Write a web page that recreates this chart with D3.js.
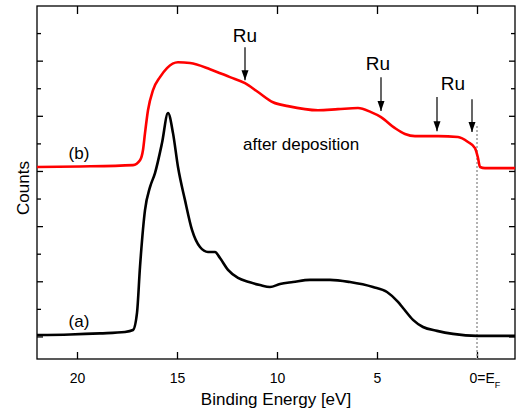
<!DOCTYPE html>
<html>
<head>
<meta charset="utf-8">
<script src="https://cdn.jsdelivr.net/npm/d3@7"></script>
<style>
  body { margin: 0; background: #fff; }
  svg { font-family: "Liberation Sans", Arial, sans-serif; }
</style>
</head>
<body>
<svg id="chart" width="517" height="417"></svg>
<script>
// spectrum (a): clean substrate, binding energy [eV] vs counts (arb.)
const energyA = [22.0, 20.35, 18.85, 17.6, 17.2, 17.0, 16.85, 16.6, 16.35, 16.1, 15.75, 15.45, 15.2, 14.95, 14.6, 14.25, 13.85, 13.45, 13.1, 12.85, 12.45, 11.95, 11.4, 10.85, 10.35, 9.85, 9.2, 8.35, 7.35, 6.35, 5.2, 4.5, 3.95, 3.7, 3.2, 2.7, 2.0, 1.2, 0, -1.9];
const countsA = [0.07, 0.09, 0.13, 0.18, 0.25, 0.87, 2.54, 4.6, 5.43, 5.94, 7.03, 8.12, 7.39, 6.16, 4.96, 3.88, 3.26, 3.08, 3.08, 2.86, 2.43, 2.14, 1.99, 1.88, 1.81, 1.92, 1.99, 2.07, 2.07, 1.99, 1.81, 1.63, 1.27, 1.05, 0.62, 0.36, 0.22, 0.11, 0.04, 0.04];

// spectrum (b): after Ru deposition
const energyB = [22.0, 19.85, 17.2, 16.85, 16.7, 16.6, 16.45, 16.2, 15.85, 15.5, 14.95, 14.35, 13.35, 12.35, 11.6, 10.95, 10.2, 9.45, 7.95, 6.95, 5.95, 5.3, 4.8, 4.1, 3.6, 3.1, 1.95, 0.95, 0.45, 0.1, -0.05, -0.15, -0.4, -1.9];
const countsB = [6.16, 6.18, 6.23, 6.41, 6.78, 7.39, 8.22, 8.95, 9.42, 9.75, 9.96, 9.93, 9.71, 9.42, 9.2, 8.88, 8.51, 8.37, 8.22, 8.26, 8.3, 8.15, 7.97, 7.57, 7.36, 7.28, 7.28, 7.25, 7.07, 6.85, 6.49, 6.16, 6.12, 6.12];

const xTicks = [20, 15, 10, 5, 0];
const yTicks = [0, 1, 2, 3, 4, 5, 6, 7, 8, 9, 10, 11];

// Ru arrows: energy, tail value, tip value
const arrows = [
  { e: 11.6, from: 10.5, to: 9.31 },
  { e: 4.8, from: 9.42, to: 8.19 },
  { e: 2.0, from: 8.7, to: 7.46 },
  { e: 0.25, from: 8.62, to: 7.43 }
];
const ruLabels = [
  { e: 11.6, v: 10.69 },
  { e: 4.95, v: 9.67 },
  { e: 1.2, v: 8.95 }
];

const svg = d3.select("#chart");
const m = { left: 37, right: 515, top: 6, bottom: 359 };

const x = d3.scaleLinear().domain([22, -1.9]).range([m.left, m.right]);
const y = d3.scaleLinear().domain([-0.8, 12]).range([m.bottom, m.top]);

// arrow head
svg.append("defs").append("marker")
  .attr("id", "head")
  .attr("viewBox", "0 0 10 10")
  .attr("refX", 10).attr("refY", 5)
  .attr("markerWidth", 10).attr("markerHeight", 10)
  .attr("markerUnits", "userSpaceOnUse")
  .attr("orient", "auto")
  .append("path")
  .attr("d", "M0,1.5 L10,5 L0,8.5 Z")
  .attr("fill", "#000");

// bottom / top axes, ticks inward
const gx = svg.append("g")
  .attr("transform", `translate(0,${m.bottom})`)
  .call(d3.axisBottom(x).tickValues(xTicks).tickSizeInner(-7).tickSizeOuter(0).tickPadding(14));
gx.select(".domain").remove();
gx.selectAll("line").attr("stroke-width", 1.3);
gx.selectAll("text").attr("font-size", 14).attr("fill", "#000");
gx.attr("font-family", null);
gx.selectAll(".tick").filter(d => d === 0).select("text")
  .attr("text-anchor", "start").attr("x", -8)
  .text("0=E")
  .append("tspan").attr("font-size", 9).attr("dy", 5).text("F");

const gxt = svg.append("g")
  .attr("transform", `translate(0,${m.top})`)
  .call(d3.axisTop(x).tickValues(xTicks).tickSizeInner(-8).tickSizeOuter(0).tickFormat(""));
gxt.select(".domain").remove();
gxt.selectAll("line").attr("stroke-width", 1.3);

// left / right axes, alternating tick length
function yAxis(g, side) {
  g.selectAll("line.yt")
    .data(yTicks)
    .join("line")
    .attr("class", "yt")
    .attr("x1", side)
    .attr("x2", d => side + (side === m.left ? 1 : -1) * (d % 2 === 0 ? 6 : 4))
    .attr("y1", d => y(d)).attr("y2", d => y(d))
    .attr("stroke", "#000").attr("stroke-width", 1.3);
}
svg.append("g").call(yAxis, m.left);
svg.append("g").call(yAxis, m.right);

// frame
svg.append("rect")
  .attr("x", m.left).attr("y", m.top)
  .attr("width", m.right - m.left).attr("height", m.bottom - m.top)
  .attr("fill", "none").attr("stroke", "#000").attr("stroke-width", 1.3);

// Fermi level marker
svg.append("line")
  .attr("x1", x(0)).attr("x2", x(0))
  .attr("y1", y(7.65)).attr("y2", m.bottom)
  .attr("stroke", "#999").attr("stroke-width", 1.5)
  .attr("stroke-dasharray", "2,2");

const line = d3.line()
  .x(d => x(d[0]))
  .y(d => y(d[1]))
  .curve(d3.curveMonotoneX);

svg.append("path")
  .datum(d3.zip(energyA, countsA))
  .attr("d", line)
  .attr("fill", "none").attr("stroke", "#000").attr("stroke-width", 2.6)
  .attr("stroke-linejoin", "round");

svg.append("path")
  .datum(d3.zip(energyB, countsB))
  .attr("d", line)
  .attr("fill", "none").attr("stroke", "#ff0000").attr("stroke-width", 2.6)
  .attr("stroke-linejoin", "round");

// arrows + labels
svg.selectAll("line.arrow")
  .data(arrows)
  .join("line")
  .attr("class", "arrow")
  .attr("x1", d => x(d.e)).attr("x2", d => x(d.e))
  .attr("y1", d => y(d.from)).attr("y2", d => y(d.to))
  .attr("stroke", "#000").attr("stroke-width", 1.2)
  .attr("marker-end", "url(#head)");

svg.selectAll("text.ru")
  .data(ruLabels)
  .join("text")
  .attr("class", "ru")
  .attr("x", d => x(d.e)).attr("y", d => y(d.v))
  .attr("text-anchor", "middle")
  .attr("font-size", 19)
  .text("Ru");

svg.append("text")
  .attr("x", x(19.9)).attr("y", y(6.45))
  .attr("text-anchor", "middle").attr("font-size", 17)
  .text("(b)");
svg.append("text")
  .attr("x", x(19.9)).attr("y", y(0.36))
  .attr("text-anchor", "middle").attr("font-size", 17)
  .text("(a)");
svg.append("text")
  .attr("x", x(11.7)).attr("y", y(6.78))
  .attr("font-size", 17)
  .text("after deposition");

// axis titles
svg.append("text")
  .attr("x", (m.left + m.right) / 2).attr("y", 405)
  .attr("text-anchor", "middle").attr("font-size", 17)
  .text("Binding Energy [eV]");
svg.append("text")
  .attr("transform", "translate(29,188) rotate(-90)")
  .attr("text-anchor", "middle").attr("font-size", 17)
  .text("Counts");
</script>
</body>
</html>
